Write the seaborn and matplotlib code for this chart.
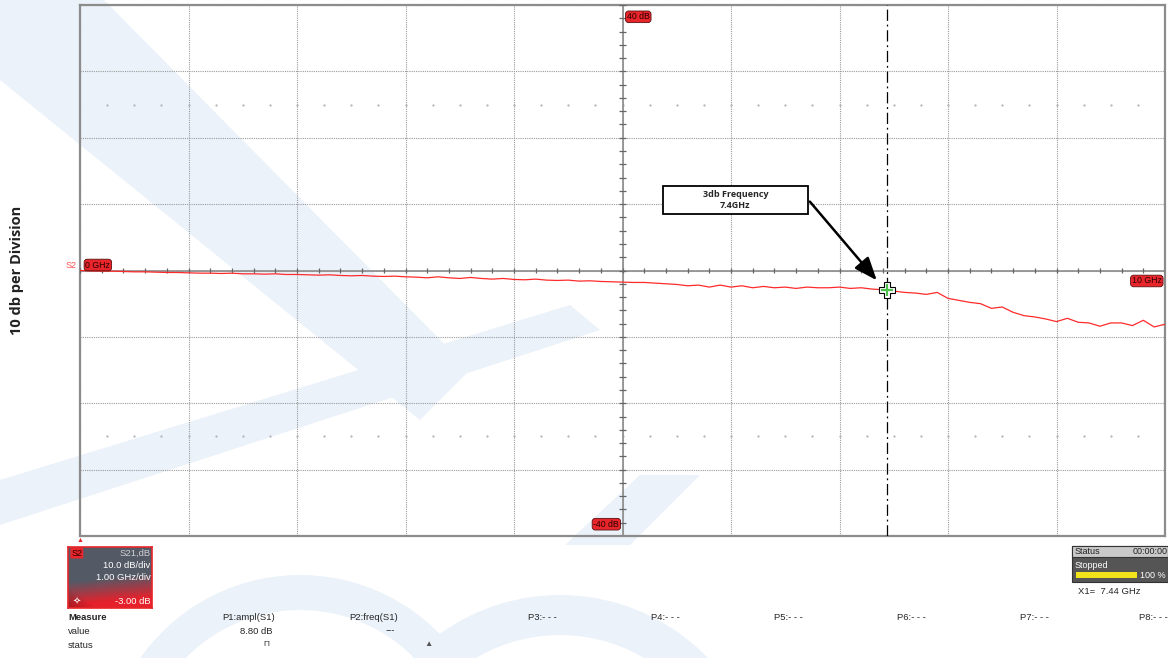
import numpy as np
import pandas as pd
import matplotlib
matplotlib.use("Agg")
import matplotlib.pyplot as plt
import seaborn as sns
from matplotlib.patches import Polygon, Rectangle, Wedge

freq_ghz = [0.0, 0.1, 0.2, 0.3, 0.4, 0.5, 0.6, 0.7, 0.8, 0.9,
            1.0, 1.1, 1.2, 1.3, 1.4, 1.5, 1.6, 1.7, 1.8, 1.9,
            2.0, 2.1, 2.2, 2.3, 2.4, 2.5, 2.6, 2.7, 2.8, 2.9,
            3.0, 3.1, 3.2, 3.3, 3.4, 3.5, 3.6, 3.7, 3.8, 3.9,
            4.0, 4.1, 4.2, 4.3, 4.4, 4.5, 4.6, 4.7, 4.8, 4.9,
            5.0, 5.1, 5.2, 5.3, 5.4, 5.5, 5.6, 5.7, 5.8, 5.9,
            6.0, 6.1, 6.2, 6.3, 6.4, 6.5, 6.6, 6.7, 6.8, 6.9,
            7.0, 7.1, 7.2, 7.3, 7.4, 7.5, 7.6, 7.7, 7.8, 7.9,
            8.0, 8.1, 8.2, 8.3, 8.4, 8.5, 8.6, 8.7, 8.8, 8.9,
            9.0, 9.1, 9.2, 9.3, 9.4, 9.5, 9.6, 9.7, 9.8, 9.9, 10.0]
s21_db = [0.0, -0.05, -0.1, -0.1, -0.15, -0.2, -0.2, -0.25, -0.3, -0.3,
          -0.35, -0.4, -0.4, -0.45, -0.4, -0.5, -0.5, -0.55, -0.5, -0.6,
          -0.6, -0.65, -0.7, -0.65, -0.75, -0.8, -0.75, -0.85, -0.9, -0.85,
          -0.95, -1.0, -1.1, -0.95, -1.1, -1.2, -1.05, -1.2, -1.3, -1.2,
          -1.35, -1.4, -1.3, -1.45, -1.5, -1.45, -1.6, -1.55, -1.65, -1.7,
          -1.75, -1.8, -1.8, -1.9, -2.0, -2.1, -2.3, -2.2, -2.5, -2.2,
          -2.5, -2.3, -2.6, -2.4, -2.6, -2.5, -2.7, -2.5, -2.6, -2.6,
          -2.5, -2.7, -2.6, -2.8, -2.9, -3.1, -3.3, -3.4, -3.6, -3.3,
          -4.2, -4.5, -4.8, -5.0, -5.7, -5.5, -6.3, -6.8, -7.0, -7.3,
          -7.7, -7.2, -7.8, -7.9, -8.4, -7.9, -7.9, -8.3, -7.5, -8.5, -8.1]

cursor_ghz = 7.44
cursor_db = -3.0
annot_text = "3db Frequency\n7.4GHz"

measure_cols = ["P1:ampl(S1)", "P2:freq(S1)", "P3:- - -", "P4:- - -",
                "P5:- - -", "P6:- - -", "P7:- - -", "P8:- - -"]
measure_vals = ["8.80 dB", "---", "", "", "", "", "", ""]

df = pd.DataFrame({"freq": freq_ghz, "s21": s21_db})

W, H = 1168, 658
sns.set_style("white")
plt.rcParams["font.family"] = ["Liberation Sans", "DejaVu Sans"]

fig = plt.figure(figsize=(W / 100, H / 100), dpi=100)


def px(x, y):
    # pixel position -> figure fraction
    return (x / W, 1 - y / H)


# faint light blue watermark behind everything
wm = "#ebf2fa"
bg = fig.add_axes([0, 0, 1, 1], zorder=-5)
bg.set_xlim(0, W)
bg.set_ylim(H, 0)
bg.axis("off")
bg.add_patch(Polygon([(0, 0), (104, 0), (470, 370), (420, 420), (0, 80)], color=wm, lw=0))
bg.add_patch(Polygon([(0, 480), (0, 525), (600, 330), (570, 305)], color=wm, lw=0))
bg.add_patch(Polygon([(565, 545), (640, 475), (700, 475), (630, 545)], color=wm, lw=0))
# y axis is flipped here, so arcs bulging upward use angles 195..345
bg.add_patch(Wedge((560, 800), 205, 200, 340, width=40, color=wm, lw=0))
bg.add_patch(Wedge((300, 770), 195, 210, 320, width=35, color=wm, lw=0))

# main screen area
ax = fig.add_axes([80 / W, 1 - 536 / H, 1085 / W, 531 / H])
ax.set_facecolor("none")
sns.lineplot(data=df, x="freq", y="s21", ax=ax, color="#ff2b2b", lw=0.9, zorder=5)
ax.set_xlim(0, 10)
ax.set_ylim(-40, 40)
ax.set_xticks(np.arange(0, 11, 1))
ax.set_yticks(np.arange(-40, 41, 10))
ax.grid(True, ls=(0, (1, 1)), color="#9a9a9a", lw=0.8)
ax.tick_params(length=0, labelbottom=False, labelleft=False)
ax.set_xlabel("")
ax.set_ylabel("")
for s in ax.spines.values():
    s.set_color("#8c8c8c")
    s.set_linewidth(1.6)

# center axes with small tick marks
ax.axhline(0, color="#8c8c8c", lw=1.2, zorder=3)
ax.axvline(5, color="#8c8c8c", lw=1.2, zorder=3)
ax.vlines(np.arange(0, 10.01, 0.2), -0.45, 0.45, color="#666666", lw=0.9, zorder=3)
ax.hlines(np.arange(-40, 40.1, 2), 5 - 0.028, 5 + 0.028, color="#666666", lw=0.9, zorder=3)

# faint dot rows
for yy in (25, -25):
    ax.plot(np.arange(0.25, 10, 0.25), [yy] * 39, ls="none", marker=".",
            ms=1.2, color="#b0b0b0")

# cursor line and marker
ax.axvline(cursor_ghz, color="black", lw=0.9, ls=(0, (9, 3, 1.5, 3)), zorder=4)
ax.plot([cursor_ghz], [cursor_db], marker="P", ms=11, mfc="white", mec="black",
        mew=0.8, zorder=7)
ax.plot([cursor_ghz], [cursor_db], marker="+", ms=8, color="#4cc04c", mew=1.6, zorder=8)

# red scale labels
lab = dict(fontsize=6.3, color="#2a0000", zorder=9, clip_on=False,
           bbox=dict(boxstyle="round,pad=0.15,rounding_size=0.35", fc="#e8252b",
                     ec="#5a1010", lw=0.6))
ax.text(0.05, 0.15, "0 GHz", ha="left", va="bottom", **lab)
ax.text(9.97, -0.9, "10 GHz", ha="right", va="top", **lab)
ax.text(5.04, 38.9, "40 dB", ha="left", va="top", **lab)
ax.text(4.97, -38.9, "-40 dB", ha="right", va="bottom", **lab)
ax.text(-0.03, 0.15, "S2", ha="right", va="bottom", fontsize=6.5, color="#ff5050",
        clip_on=False)

# 3 dB annotation box with arrow
ax.annotate("", xy=(7.36, -1.8), xytext=(6.71, 10.7),
            arrowprops=dict(arrowstyle="-|>,head_length=1.4,head_width=0.55",
                            color="black", lw=1.8), zorder=9)
fig.patches.append(Rectangle(px(663, 214), 145 / W, 28 / H, transform=fig.transFigure,
                             fc="white", ec="black", lw=1.3, zorder=10))
fig.text(*px(735.5, 200), annot_text, ha="center", va="center", fontsize=6.5,
         fontweight="bold", family=["Open Sans", "DejaVu Sans"], linespacing=1.4,
         zorder=11)

# side label
fig.text(*px(17, 270), "10 db per Division", rotation=90, ha="center", va="center",
         fontsize=10.5, fontweight="bold", family=["Open Sans", "DejaVu Sans"],
         color="#222222")

# trace descriptor box
fig.text(*px(80, 541), "\u25b2", ha="center", va="center", fontsize=5, color="#e8252b")
bx = fig.add_axes([68 / W, 1 - 608 / H, 84 / W, 61 / H])
gy, gx = np.mgrid[0:1:60j, 0:1:80j]
t = np.clip((gy - 0.5) * 2.6 + gx * 0.35 - 0.2, 0, 1)
dark = np.clip(0.35 - gx - (1 - gy), 0, 1) * 1.5
top = np.array([0.33, 0.35, 0.40])
bot = np.array([0.90, 0.13, 0.17])
img = top[None, None, :] * (1 - t[..., None]) + bot[None, None, :] * t[..., None]
img = img * (1 - dark[..., None] * 0.5)
bx.imshow(np.clip(img, 0, 1), aspect="auto", extent=[0, 1, 1, 0])
bx.set_xlim(0, 1)
bx.set_ylim(1, 0)
bx.set_xticks([])
bx.set_yticks([])
for s in bx.spines.values():
    s.set_color("#e8252b")
    s.set_linewidth(1.2)
bx.text(0.04, 0.1, "S2", fontsize=6.5, color="#2a0000", va="center",
        bbox=dict(boxstyle="round,pad=0.1", fc="#e8252b", ec="none"))
bx.text(0.98, 0.1, "S21,dB", fontsize=6.8, color="#cfcfcf", ha="right", va="center")
bx.text(0.98, 0.3, "10.0 dB/div", fontsize=6.8, color="white", ha="right", va="center")
bx.text(0.98, 0.5, "1.00 GHz/div", fontsize=6.8, color="white", ha="right", va="center")
bx.text(0.98, 0.9, "-3.00 dB", fontsize=6.8, color="white", ha="right", va="center")
bx.text(0.1, 0.9, "\u2727", fontsize=7, color="white", ha="center", va="center",
        family=["DejaVu Sans"])

# measure table
fig.text(*px(68, 617), "Measure", fontsize=6.8, fontweight="bold", va="center")
fig.text(*px(68, 631), "value", fontsize=6.8, va="center")
fig.text(*px(68, 645), "status", fontsize=6.8, va="center")
col_right = [275, 398, 557, 680, 803, 926, 1049, 1168]
for i, name in enumerate(measure_cols):
    fig.text(*px(col_right[i], 617), name, fontsize=6.8, ha="right", va="center")
    if measure_vals[i]:
        fig.text(*px(col_right[i] - 3, 631), measure_vals[i], fontsize=6.8,
                 ha="right", va="center")
fig.text(*px(266, 645), "\u03a0", fontsize=6, ha="center", va="center", color="#333")
fig.text(*px(428, 645), "\u25b2", fontsize=6, ha="center", va="center", color="#555")

# status box
fig.patches.append(Rectangle(px(1072, 582), 96 / W, 36 / H, transform=fig.transFigure,
                             fc="#555555", ec="#333333", lw=0.8))
fig.patches.append(Rectangle(px(1072, 557), 96 / W, 11 / H, transform=fig.transFigure,
                             fc="#c9c9c9", ec="#333333", lw=0.8))
fig.text(*px(1075, 552), "Status", fontsize=6.5, va="center", color="#222")
fig.text(*px(1168, 552), "00:00:00", fontsize=6.5, ha="right", va="center", color="#222")
fig.text(*px(1075, 565), "Stopped", fontsize=6.5, va="center", color="white")
fig.patches.append(Rectangle(px(1076, 578), 61 / W, 6 / H, transform=fig.transFigure,
                             fc="#f2e21a", ec="none"))
fig.text(*px(1166, 576), "100 %", fontsize=6.5, ha="right", va="center", color="white")
fig.text(*px(1078, 591), "X1=  7.44 GHz", fontsize=6.8, va="center")

plt.savefig("out.png", dpi=100)
